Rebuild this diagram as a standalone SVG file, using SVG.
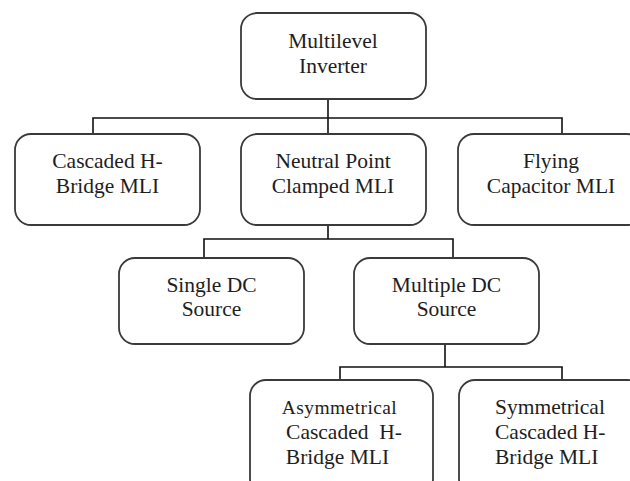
<svg xmlns="http://www.w3.org/2000/svg" width="630" height="481" viewBox="0 0 630 481">
<defs>
<style>
.box{fill:#fff;stroke:#3a3a3a;stroke-width:1.8}
.conn{fill:none;stroke:#111;stroke-width:1.6}
</style>
</defs>
<rect width="630" height="481" fill="#fff"/>
<g id="connectors" class="conn">
<path d="M328 99V134M93 134V118H562V134"/>
<path d="M328 225V239M204 258V239H453V258"/>
<path d="M445 344V367M340 380V367H562V380"/>
</g>
<g font-family="Liberation Serif" font-size="21.5" fill="#1e1e1e" text-anchor="middle">
<g id="n-mli"><rect class="box" x="241" y="13" width="185" height="86" rx="16"/><text x="333" y="48">Multilevel</text><text x="333" y="73">Inverter</text></g>
<g id="n-chb"><rect class="box" x="15" y="134" width="185" height="91" rx="16"/><text x="107.5" y="168">Cascaded H-</text><text x="107.5" y="193">Bridge MLI</text></g>
<g id="n-npc"><rect class="box" x="241" y="134" width="185" height="91" rx="16"/><text x="333" y="168">Neutral Point</text><text x="333" y="193">Clamped MLI</text></g>
<g id="n-fc"><rect class="box" x="458" y="134" width="185" height="91" rx="16"/><text x="551" y="168">Flying</text><text x="551" y="193">Capacitor MLI</text></g>
<g id="n-single"><rect class="box" x="119" y="258" width="185" height="86" rx="16"/><text x="211.5" y="292">Single DC</text><text x="211.5" y="316">Source</text></g>
<g id="n-multi"><rect class="box" x="354" y="258" width="185" height="86" rx="16"/><text x="446.5" y="292">Multiple DC</text><text x="446.5" y="316">Source</text></g>
<g id="n-asym"><rect class="box" x="250" y="380" width="183" height="115" rx="16"/><text x="339.5" y="414" font-size="19.5" letter-spacing="0.4">Asymmetrical</text><text x="344" y="439" xml:space="preserve">Cascaded  H-</text><text x="337.5" y="464">Bridge MLI</text></g>
<g id="n-sym" text-anchor="start"><rect class="box" x="459" y="380" width="185" height="115" rx="16"/><text x="495" y="414">Symmetrical</text><text x="495" y="439">Cascaded H-</text><text x="495" y="464">Bridge MLI</text></g>
</g>
</svg>
